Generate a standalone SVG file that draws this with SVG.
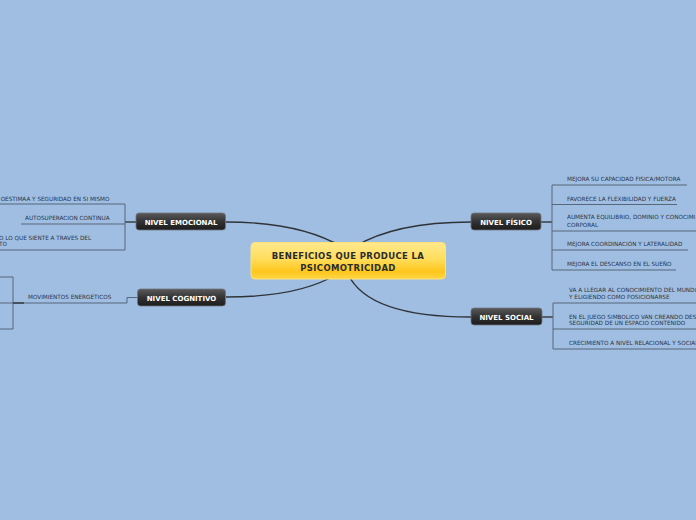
<svg xmlns="http://www.w3.org/2000/svg" width="696" height="520" viewBox="0 0 696 520">
<defs>
<linearGradient id="gDark" x1="0" y1="0" x2="0" y2="1">
<stop offset="0" stop-color="#5a5a5a"/>
<stop offset="0.5" stop-color="#333"/>
<stop offset="1" stop-color="#1c1c1c"/>
</linearGradient>
<linearGradient id="gYellow" x1="0" y1="0" x2="0" y2="1">
<stop offset="0" stop-color="#ffe98e"/>
<stop offset="0.45" stop-color="#ffdd5c"/>
<stop offset="0.8" stop-color="#ffc61c"/>
<stop offset="1" stop-color="#ffd545"/>
</linearGradient>
</defs>
<style>
.curve{fill:none;stroke:#2f3338;stroke-width:1.4}
.br{fill:none;stroke:#56667c;stroke-width:1}
.dk{fill:none;stroke:#33373c;stroke-width:1.4}
.node rect{fill:url(#gDark);stroke:#6e7580;stroke-width:0.8}
.nl{font-family:"DejaVu Sans",Verdana,sans-serif;font-weight:bold;font-size:7px;fill:#ffffff;text-anchor:middle}
.sub{font-family:"DejaVu Sans",Verdana,sans-serif;font-size:5.7px;fill:#2a3547}
.ct{font-family:"DejaVu Sans",Verdana,sans-serif;font-weight:bold;font-size:8.5px;letter-spacing:0.35px;fill:#2b2b2b;text-anchor:middle}
</style>
<rect width="696" height="520" fill="#a0bee2"/>

<g id="connectors">
<path class="curve" d="M226,222 Q300,222 342,247"/>
<path class="curve" d="M471,222 Q395,222 354,247"/>
<path class="curve" d="M226,297 Q300,297 337,274"/>
<path class="curve" d="M348,274 Q368,317 471,317"/>
<path class="dk" d="M136,222 H125"/>
<path class="br" d="M125,204 V250 M0,204 H125 M21,224 H125 M0,250 H125"/>
<path class="br" d="M137,297.5 H127 V303 H13"/>
<path class="br" d="M13,277 V329 M0,277 H13 M0,329 H13 M0,303 H13"/>
<path class="dk" d="M13,303 H24"/>
<path class="dk" d="M541,222 H552"/>
<path class="br" d="M552,185 V270 M552,185 H687 M552,204.5 H677 M552,231 H696 M552,250 H688 M552,270 H676"/>
<path class="dk" d="M542,317 H553"/>
<path class="br" d="M553,303 V349 M553,303 H696 M553,329 H696 M553,349 H696"/>
</g>

<g id="central">
<rect x="251" y="242.5" width="194.5" height="36.5" rx="4" fill="url(#gYellow)" stroke="#ffe27a" stroke-width="1"/>
<text class="ct" x="348" y="258.5">BENEFICIOS QUE PRODUCE LA</text>
<text class="ct" x="348" y="270.5">PSICOMOTRICIDAD</text>
</g>

<g id="nivel-emocional" class="node">
<rect x="136" y="213" width="89.5" height="17" rx="3"/>
<text class="nl" x="181" y="224.5">NIVEL EMOCIONAL</text>
</g>
<g id="nivel-cognitivo" class="node">
<rect x="137.5" y="289" width="88" height="17" rx="3"/>
<text class="nl" x="181.5" y="300.5">NIVEL COGNITIVO</text>
</g>
<g id="nivel-fisico" class="node">
<rect x="471" y="213" width="70" height="17" rx="3"/>
<text class="nl" x="506" y="224.5">NIVEL FÍSICO</text>
</g>
<g id="nivel-social" class="node">
<rect x="471" y="308" width="71" height="17" rx="3"/>
<text class="nl" x="506.5" y="319.5">NIVEL SOCIAL</text>
</g>

<g id="emocional-items">
<text class="sub" x="109.5" y="201" text-anchor="end">OESTIMAA Y SEGURIDAD EN SI MISMO</text>
<text class="sub" x="25" y="220">AUTOSUPERACION CONTINUA</text>
<text class="sub" x="-1" y="240">O LO QUE SIENTE A TRAVES DEL</text>
<text class="sub" x="-1" y="246">TO</text>
</g>
<g id="cognitivo-items">
<text class="sub" x="28" y="299">MOVIMIENTOS ENERGETICOS</text>
</g>
<g id="fisico-items">
<text class="sub" x="567" y="181">MEJORA SU CAPACIDAD FISICA/MOTORA</text>
<text class="sub" x="567" y="201">FAVORECE LA FLEXIBILIDAD Y FUERZA</text>
<text class="sub" x="567" y="219">AUMENTA EQUILIBRIO, DOMINIO Y CONOCIMI</text>
<text class="sub" x="567" y="226.5">CORPORAL</text>
<text class="sub" x="567" y="245.5">MEJORA COORDINACIÓN Y LATERALIDAD</text>
<text class="sub" x="567" y="266">MEJORA EL DESCANSO EN EL SUEÑO</text>
</g>
<g id="social-items">
<text class="sub" x="569" y="292">VA A LLEGAR AL CONOCIMIENTO DEL MUNDO</text>
<text class="sub" x="569" y="298.5">Y ELIGIENDO COMO POSICIONARSE</text>
<text class="sub" x="569" y="318.5">EN EL JUEGO SIMBOLICO VAN CREANDO DES</text>
<text class="sub" x="569" y="325">SEGURIDAD DE UN ESPACIO CONTENIDO</text>
<text class="sub" x="569" y="345">CRECIMIENTO A NIVEL RELACIONAL Y SOCIAL</text>
</g>
</svg>
